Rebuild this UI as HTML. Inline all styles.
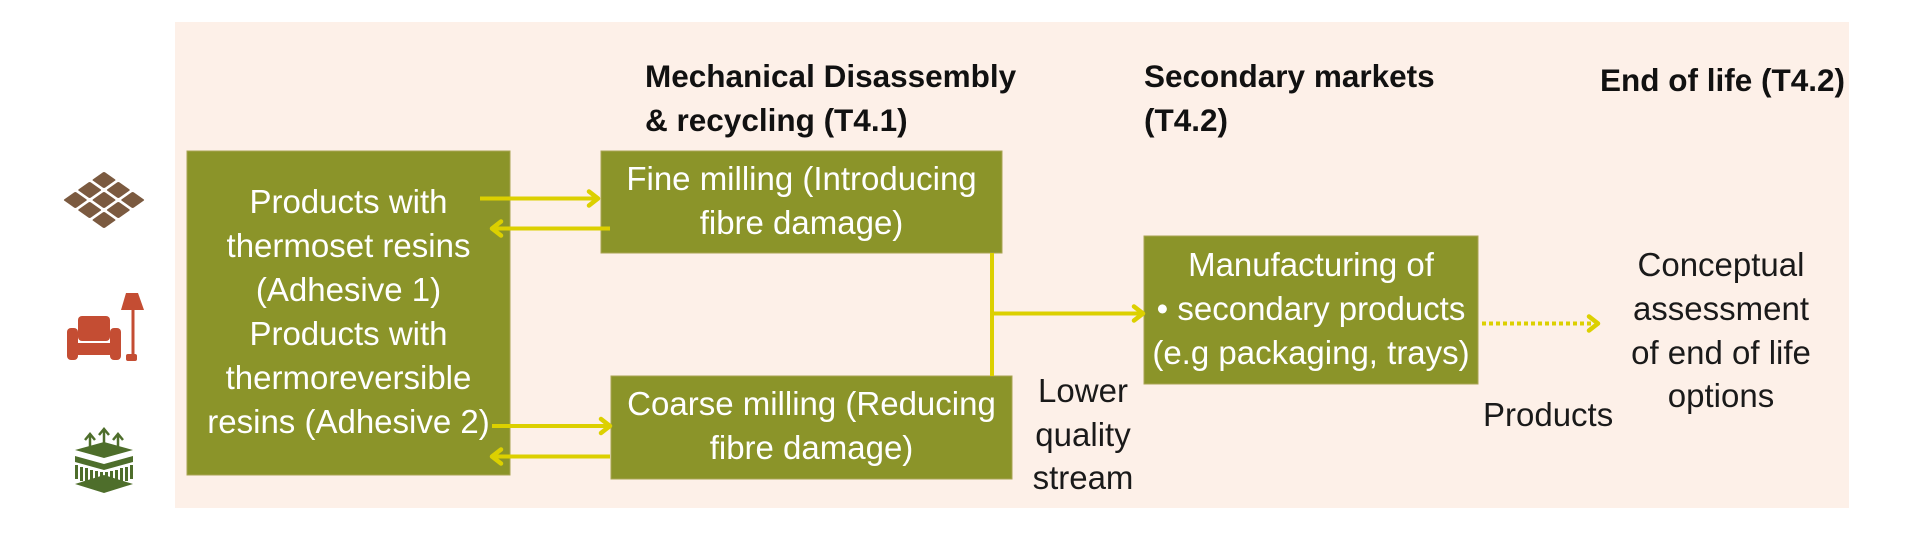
<!DOCTYPE html>
<html>
<head>
<meta charset="utf-8">
<style>
  html,body{margin:0;padding:0;background:#ffffff;}
  body{width:1920px;height:540px;overflow:hidden;position:relative;}
  svg{position:absolute;left:0;top:0;}
  text{font-family:"Liberation Sans", Arial, sans-serif;}
  .w{fill:#ffffff;font-size:33px;}
  .k{fill:#1a1a1a;font-size:33px;}
  .h{fill:#111111;font-size:31.5px;font-weight:bold;}
</style>
</head>
<body>
<svg width="1920" height="540" viewBox="0 0 1920 540" xmlns="http://www.w3.org/2000/svg">
  <!-- background panel -->
  <rect x="175" y="22" width="1674" height="486" fill="#fdf0e8"/>

  <!-- icons -->
  <!-- tiles -->
  <g transform="matrix(14.333,-10,14.333,10,61,200)" fill="#7b5a40">
    <rect x="0.08" y="0.08" width="0.84" height="0.84" rx="0.08"/>
    <rect x="1.08" y="0.08" width="0.84" height="0.84" rx="0.08"/>
    <rect x="2.08" y="0.08" width="0.84" height="0.84" rx="0.08"/>
    <rect x="0.08" y="1.08" width="0.84" height="0.84" rx="0.08"/>
    <rect x="1.08" y="1.08" width="0.84" height="0.84" rx="0.08"/>
    <rect x="2.08" y="1.08" width="0.84" height="0.84" rx="0.08"/>
    <rect x="0.08" y="2.08" width="0.84" height="0.84" rx="0.08"/>
    <rect x="1.08" y="2.08" width="0.84" height="0.84" rx="0.08"/>
    <rect x="2.08" y="2.08" width="0.84" height="0.84" rx="0.08"/>
  </g>
  <!-- sofa + lamp -->
  <g fill="#c44d33">
    <rect x="78" y="316" width="32" height="25" rx="4"/>
    <rect x="67" y="328" width="11" height="32" rx="4"/>
    <rect x="110" y="328" width="11" height="32" rx="4"/>
    <rect x="76" y="343" width="36" height="12"/>
    <polygon points="126,293 138,293 144,310 121,310"/>
    <rect x="131.5" y="309" width="3" height="46"/>
    <rect x="126" y="354" width="11" height="7" rx="2"/>
  </g>
  <!-- layers -->
  <g fill="#4e6e2b">
    <polygon points="75,450 104,442 133,450 104,458"/>
    <polygon points="75,456 104,464 133,456 133,462 104,470 75,462"/>
    <rect x="75" y="465" width="3" height="14"/><rect x="80" y="467" width="3" height="14"/>
    <rect x="85" y="468" width="3" height="14"/><rect x="90" y="470" width="3" height="14"/>
    <rect x="95" y="471" width="3" height="14"/><rect x="100" y="472" width="3" height="14"/>
    <rect x="105" y="472" width="3" height="14"/><rect x="110" y="471" width="3" height="14"/>
    <rect x="115" y="470" width="3" height="14"/><rect x="120" y="468" width="3" height="14"/>
    <rect x="125" y="467" width="3" height="14"/><rect x="130" y="465" width="3" height="14"/>
    <polygon points="75,484 104,475 133,484 104,493"/>
  </g>
  <g stroke="#4e6e2b" stroke-width="2.5" fill="none">
    <line x1="90" y1="435" x2="90" y2="450"/><polyline points="85,440 90,434 95,440"/>
    <line x1="104" y1="430" x2="104" y2="452"/><polyline points="99,435 104,429 109,435"/>
    <line x1="118" y1="435" x2="118" y2="450"/><polyline points="113,440 118,434 123,440"/>
  </g>

  <!-- boxes -->
  <g fill="#8b9429" stroke="#a9a552" stroke-width="1">
    <rect x="187" y="151" width="323" height="324"/>
    <rect x="601" y="151" width="401" height="102"/>
    <rect x="611" y="376" width="401" height="103"/>
    <rect x="1144" y="236" width="334" height="148"/>
  </g>

  <!-- connectors -->
  <g stroke="#dcd000" stroke-width="4" fill="none" stroke-linecap="butt">
    <line x1="480" y1="198.5" x2="596" y2="198.5"/>
    <line x1="610" y1="228.5" x2="494" y2="228.5"/>
    <line x1="492" y1="426" x2="608" y2="426"/>
    <line x1="610" y1="456.5" x2="494" y2="456.5"/>
    <line x1="992" y1="253" x2="992" y2="376"/>
    <line x1="990" y1="313.5" x2="1141" y2="313.5"/>
    <line x1="1482" y1="323.5" x2="1592" y2="323.5" stroke-dasharray="4 3"/>
  </g>
  <g stroke="#dcd000" stroke-width="4.5" fill="none" stroke-linecap="round" stroke-linejoin="round">
    <polyline points="589,191.5 598,198.5 589,205.5"/>
    <polyline points="501,221.5 492,228.5 501,235.5"/>
    <polyline points="601,419 610,426 601,433"/>
    <polyline points="501,449.5 492,456.5 501,463.5"/>
    <polyline points="1134,306.5 1143,313.5 1134,320.5"/>
    <polyline points="1589,316.5 1598,323.5 1589,330.5"/>
  </g>

  <!-- headers -->
  <text class="h" x="645" y="87">Mechanical Disassembly</text>
  <text class="h" x="645" y="131">&amp; recycling (T4.1)</text>
  <text class="h" x="1144" y="87">Secondary markets</text>
  <text class="h" x="1144" y="131">(T4.2)</text>
  <text class="h" x="1600" y="91">End of life (T4.2)</text>

  <!-- left box text -->
  <g class="w" text-anchor="middle">
    <text class="w" x="348.5" y="213">Products with</text>
    <text class="w" x="348.5" y="257">thermoset resins</text>
    <text class="w" x="348.5" y="301">(Adhesive 1)</text>
    <text class="w" x="348.5" y="345">Products with</text>
    <text class="w" x="348.5" y="389">thermoreversible</text>
    <text class="w" x="348.5" y="433">resins (Adhesive 2)</text>
  </g>

  <!-- fine milling -->
  <g text-anchor="middle">
    <text class="w" x="801.5" y="190">Fine milling (Introducing</text>
    <text class="w" x="801.5" y="234">fibre damage)</text>
  </g>

  <!-- coarse milling -->
  <g text-anchor="middle">
    <text class="w" x="811.5" y="415">Coarse milling (Reducing</text>
    <text class="w" x="811.5" y="459">fibre damage)</text>
  </g>

  <!-- manufacturing -->
  <g text-anchor="middle">
    <text class="w" x="1311" y="276">Manufacturing of</text>
    <text class="w" x="1311" y="320">• secondary products</text>
    <text class="w" x="1311" y="364">(e.g packaging, trays)</text>
  </g>

  <!-- lower quality stream -->
  <g text-anchor="middle">
    <text class="k" x="1083" y="402">Lower</text>
    <text class="k" x="1083" y="446">quality</text>
    <text class="k" x="1083" y="489">stream</text>
  </g>

  <!-- products -->
  <text class="k" x="1483" y="426">Products</text>

  <!-- conceptual -->
  <g text-anchor="middle">
    <text class="k" x="1721" y="276">Conceptual</text>
    <text class="k" x="1721" y="320">assessment</text>
    <text class="k" x="1721" y="364">of end of life</text>
    <text class="k" x="1721" y="407">options</text>
  </g>
</svg>
</body>
</html>
